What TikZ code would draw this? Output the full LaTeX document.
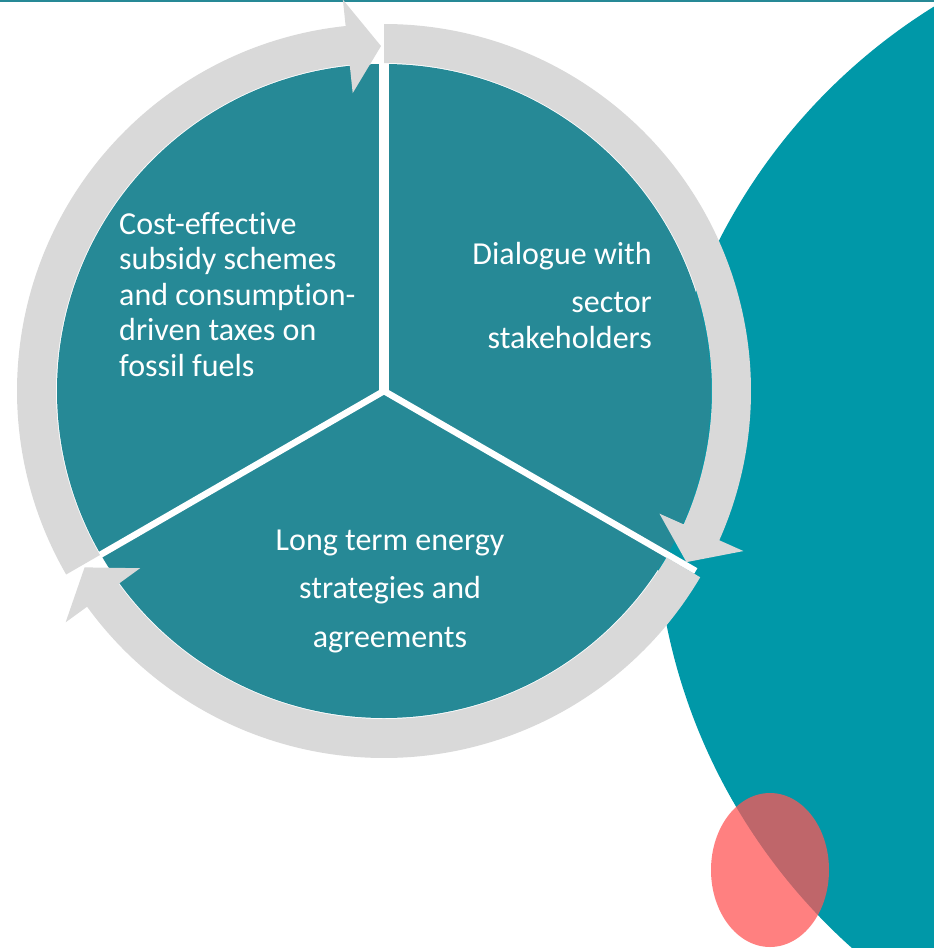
\documentclass[tikz,border=0pt]{standalone}
\usepackage{fontspec}
\setmainfont{Carlito}[Ligatures=NoCommon]
\definecolor{pieteal}{RGB}{38,137,150}
\definecolor{bigteal}{RGB}{0,152,168}
\definecolor{ringgrey}{RGB}{217,217,217}
\definecolor{blobred}{RGB}{255,86,86}
\begin{document}
\begin{tikzpicture}[x=1pt,y=1pt,
  sector/.style={fill=pieteal},
  cut/.style={draw=white,line width=6.5pt},
  ringarrow/.style={fill=ringgrey},
  label/.style={text=white,inner sep=0pt,font=\fontsize{32}{35.5}\selectfont}]
\useasboundingbox (0,0) rectangle (934,-948);
\clip (0,0) rectangle (934,-948);
% background shapes
\draw[pieteal,line width=1.5pt] (0,-0.75) -- (934,-0.75);
\fill[bigteal] (1245,-508) circle (590);
\fill[blobred,opacity=0.75] (770,-870) ellipse (59 and 77);
% pie
\coordinate (c) at (384,-391);
\fill[sector] (c) circle (327);
\coordinate (e1) at ([shift={(c)}]90:345);
\coordinate (e2) at ([shift={(c)}]-30:360);
\coordinate (e3) at ([shift={(c)}]210:345);
\path[cut] (e2) -- (c) -- (e3);
\path[cut,line width=10pt] (c) -- (e1);
% cycle arrows
\begin{scope}[shift={(c)}]
\path[ringarrow] (210:367) arc[start angle=210,end angle=96,radius=367]
  -- (96:393.5) -- (90.5:345) -- (96:299.5) -- (96:328)
  arc[start angle=96,end angle=210,radius=328] -- cycle;
\path[ringarrow] (90:367) arc[start angle=90,end angle=-24,radius=367]
  -- (-24:393.5) -- (-29.5:347.5) -- (-24:301.5) -- (-24:328)
  arc[start angle=-24,end angle=90,radius=328] -- cycle;
\path[ringarrow] (-30.5:367) arc[start angle=-30.5,end angle=-144,radius=367]
  -- (-144:393.5) -- (-149.5:347.5) -- (-144:301.5) -- (-144:328)
  arc[start angle=-144,end angle=-30.5,radius=328] -- cycle;
\end{scope}
% texts
\node[label,anchor=base west,align=left] (cost) at (119,-376)
  {Cost-effective\\subsidy schemes\\and consumption-\\driven taxes on\\fossil fuels};
\node[label,anchor=base east,align=right] (dialogue) at (652,-348)
  {Dialogue with\\[12.5pt]sector\\stakeholders};
\node[label,anchor=base,align=center,font=\fontsize{32}{48.5}\selectfont] (longterm) at (390,-647)
  {Long term energy\\strategies and\\agreements};
\end{tikzpicture}
\end{document}
